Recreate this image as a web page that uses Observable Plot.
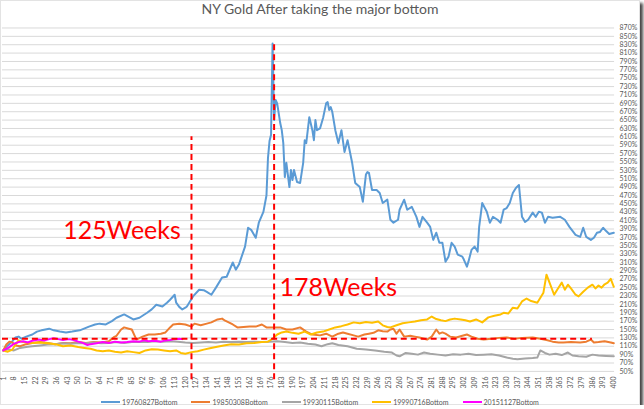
<!DOCTYPE html>
<html><head><meta charset="utf-8">
<script src="https://cdn.jsdelivr.net/npm/d3@7"></script>
<script src="https://cdn.jsdelivr.net/npm/@observablehq/plot@0.6"></script>
<style>
html,body{margin:0;padding:0;background:#fff;}
#frame{position:relative;width:638px;height:403px;border:1px solid #e3e3e3;box-shadow:3px 3px 3px #444;background:#fff;font-family:Lato,"Open Sans",sans-serif;}
#title{height:16px;line-height:16px;text-align:center;font-size:14px;color:#595959;}
#chart svg{display:block;overflow:visible;}
#legend{position:absolute;left:0;right:0;top:395px;height:12px;display:flex;justify-content:center;align-items:center;font-size:7px;color:#595959;}
.item{display:flex;align-items:center;margin:0 7px;}
.sw{width:19px;height:2px;margin-right:2px;}
</style></head>
<body>
<div id="frame">
  <div id="title">NY Gold After taking the major bottom</div>
  <div id="chart"></div>
  <div id="legend"></div>
</div>
<script>
const seriesNames = ["19760827Bottom","19850308Bottom","19930115Bottom","19990716Bottom","20151127Bottom"];
const seriesColors = ["#5B9BD5","#ED7D31","#A5A5A5","#FFC000","#FF00FF"];

const blueWeeks = [1,4,7,9,11,13,16,20,23,26,31,34,38,42,46,51,57,61,64,68,72,75,80,83,86,90,95,98,101,105,108,110,113,114,116,118,120,121,123,125,129,132,134,137,140,144,147,151,153,155,159,161,163,166,168,171,173,174,175,176,177,178,179,180,182,183,184,185,186,188,189,190,191,193,195,197,198,199,201,203,204,205,206,208,210,212,213,214,215,216,218,220,222,224,226,229,231,234,236,238,239,240,242,245,247,249,252,254,256,259,260,263,265,268,271,273,275,278,280,282,284,286,288,290,292,294,296,298,301,302,304,305,307,309,311,312,314,317,319,321,324,326,328,330,332,334,336,338,340,342,344,347,349,351,353,355,357,360,365,368,371,375,378,380,382,385,387,389,391,393,395,397,400];
const blueValues = [100,112,122,131,133,128,133,138,145,148,152,148,145,143,145,148,157,162,164,162,170,178,186,180,174,178,190,198,209,205,214,221,233,214,204,198,202,205,217,229,245,244,240,233,250,274,276,310,293,305,348,393,388,369,405,431,470,560,600,615,833,650,698,690,643,626,595,514,548,490,531,507,531,502,500,548,602,595,657,626,602,650,626,630,655,690,693,674,681,670,626,595,626,574,602,548,500,490,455,520,526,524,483,483,476,452,460,412,405,412,436,460,436,443,419,395,419,405,395,364,381,357,357,312,324,357,348,329,324,317,300,312,340,348,336,395,452,431,405,419,412,405,436,440,452,476,488,495,419,407,412,429,419,431,429,405,419,417,419,412,395,376,371,393,371,364,369,381,383,393,385,378,381];

const orangeWeeks = [1,3,5,7,9,12,16,20,25,30,35,40,45,50,55,60,65,70,73,75,78,80,83,85,88,92,96,100,104,107,110,112,116,120,124,126,130,134,137,141,144,146,149,151,154,158,162,166,170,173,177,182,186,190,195,199,203,208,212,216,220,223,226,230,233,237,240,243,246,249,252,254,256,258,260,263,267,270,273,276,278,281,284,286,288,290,293,297,301,304,307,311,315,320,325,330,335,340,347,352,356,360,364,367,372,378,382,385,387,390,394,398,400];
const orangeValues = [100,114,121,119,112,110,115,118,120,118,115,118,117,120,118,120,119,122,131,135,150,155,152,150,126,133,138,138,140,143,155,162,164,162,157,164,160,164,167,174,176,171,166,162,155,156,157,157,162,155,155,155,150,150,155,145,138,136,140,133,140,143,140,136,133,138,140,142,148,146,145,150,152,140,150,133,135,133,131,128,126,133,150,140,143,140,133,131,135,138,133,128,126,128,130,131,128,130,131,128,125,121,119,119,120,119,121,126,119,120,122,119,117];

const grayWeeks = [1,4,8,12,16,20,25,30,35,40,45,50,55,60,65,70,75,80,85,90,95,100,105,110,115,120,125,130,135,140,145,150,155,160,165,170,175,180,185,190,195,200,205,209,213,216,220,226,232,238,244,250,255,258,260,264,268,272,276,280,285,290,295,300,305,310,315,320,325,330,334,337,342,347,350,352,355,358,362,366,370,373,377,382,386,390,395,400];
const grayValues = [100,103,100,106,108,110,112,114,115,117,116,118,117,119,117,118,120,118,120,121,120,122,121,122,121,119,118,119,120,119,121,120,121,120,121,120,121,122,120,118,119,116,114,110,115,117,113,110,104,102,100,97,95,88,86,94,92,90,95,92,90,88,91,90,92,89,90,91,88,83,80,79,81,82,83,100,94,90,92,89,95,88,86,85,90,88,87,86];

const goldWeeks = [1,4,7,9,11,13,16,20,25,30,36,40,45,50,54,58,62,66,70,74,78,82,86,90,94,98,102,106,110,114,117,120,124,128,132,136,140,145,150,155,160,165,170,174,177,180,183,186,190,194,198,202,206,210,214,218,222,226,230,234,238,242,246,249,252,254,258,262,266,270,274,278,281,284,287,290,293,296,300,303,306,310,314,318,322,326,328,331,334,337,340,343,346,350,353,354,356,358,361,363,366,368,370,372,375,377,380,383,386,388,390,392,394,396,398,400];
const goldValues = [100,97,102,114,124,121,119,118,119,117,114,110,112,108,106,104,100,98,100,97,95,98,96,94,100,103,102,100,98,100,94,92,96,98,102,105,108,112,115,114,117,118,120,121,128,138,143,145,142,140,145,138,143,145,150,155,158,162,167,165,168,166,169,160,156,155,160,165,167,169,172,174,181,175,172,170,174,176,174,172,169,174,167,179,183,186,190,188,202,200,217,224,218,214,232,238,281,262,233,245,262,245,257,248,233,229,240,250,257,248,255,250,258,262,271,252];

const magentaWeeks = [1,3,5,8,11,14,17,20,24,28,31,34,37,40,44,47,50,53,56,58,62,66,70,74,78,82,86,90,93,96,100,104,107,110,113,116,118];
const magentaValues = [100,104,108,116,120,122,119,123,126,124,127,129,127,125,127,125,121,118,113,115,117,120,118,121,119,120,122,121,124,122,123,121,124,125,127,128,127];

const xTicks = d3.range(1, 401, 7);
const yTicks = d3.range(50, 871, 20);
const vLines = [{week:124, top:610}, {week:178, top:835}];
const hLine = {value:128, from:0.5, to:386};
const notes = [{week:40.2, value:385, label:"125Weeks"}, {week:181.6, value:250, label:"178Weeks"}];

const allWeeks = [blueWeeks, orangeWeeks, grayWeeks, goldWeeks, magentaWeeks];
const allValues = [blueValues, orangeValues, grayValues, goldValues, magentaValues];
const rows = [];
allWeeks.forEach((ws, i) => ws.forEach((w, j) => rows.push({series: seriesNames[i], week: w, value: allValues[i][j]})));

const font = "Lato, 'Open Sans', sans-serif";
const plot = Plot.plot({
  width: 640, height: 378,
  marginLeft: 1, marginRight: 25, marginTop: 10.5, marginBottom: 23,
  style: {fontFamily: font, color: "#595959", background: "transparent", overflow: "visible"},
  x: {domain: [0.5, 400.5]},
  y: {domain: [50, 870]},
  marks: [
    Plot.gridY(yTicks, {stroke: "#d9d9d9", strokeOpacity: 1, strokeWidth: 1}),
    Plot.axisY(yTicks, {anchor: "right", tickSize: 0, tickPadding: 5, fontSize: 7, tickFormat: d => d + "%", label: null}),
    Plot.axisX(xTicks, {anchor: "bottom", tickSize: 0, tickPadding: 5, tickRotate: -90, fontSize: 7, label: null}),
    ...seriesNames.map((name, i) => Plot.line(rows.filter(r => r.series === name), {x: "week", y: "value", stroke: seriesColors[i], strokeWidth: 2, strokeLinejoin: "round"})),
    Plot.ruleY([hLine], {y: "value", x1: "from", x2: "to", stroke: "#FF0000", strokeWidth: 2, strokeDasharray: "6,4"}),
    Plot.ruleX(vLines, {x: "week", y1: 30, y2: "top", stroke: "#FF0000", strokeWidth: 2, strokeDasharray: "6,4", clip: false}),
    Plot.text(notes, {x: "week", y: "value", text: "label", fill: "#FF0000", fontSize: 25, textAnchor: "start", fontFamily: font})
  ]
});
document.getElementById("chart").appendChild(plot);

const legend = document.getElementById("legend");
seriesNames.forEach((n, i) => {
  const it = document.createElement("div"); it.className = "item";
  const sw = document.createElement("span"); sw.className = "sw"; sw.style.background = seriesColors[i];
  const tx = document.createElement("span"); tx.textContent = n;
  it.appendChild(sw); it.appendChild(tx); legend.appendChild(it);
});
</script>
</body></html>
